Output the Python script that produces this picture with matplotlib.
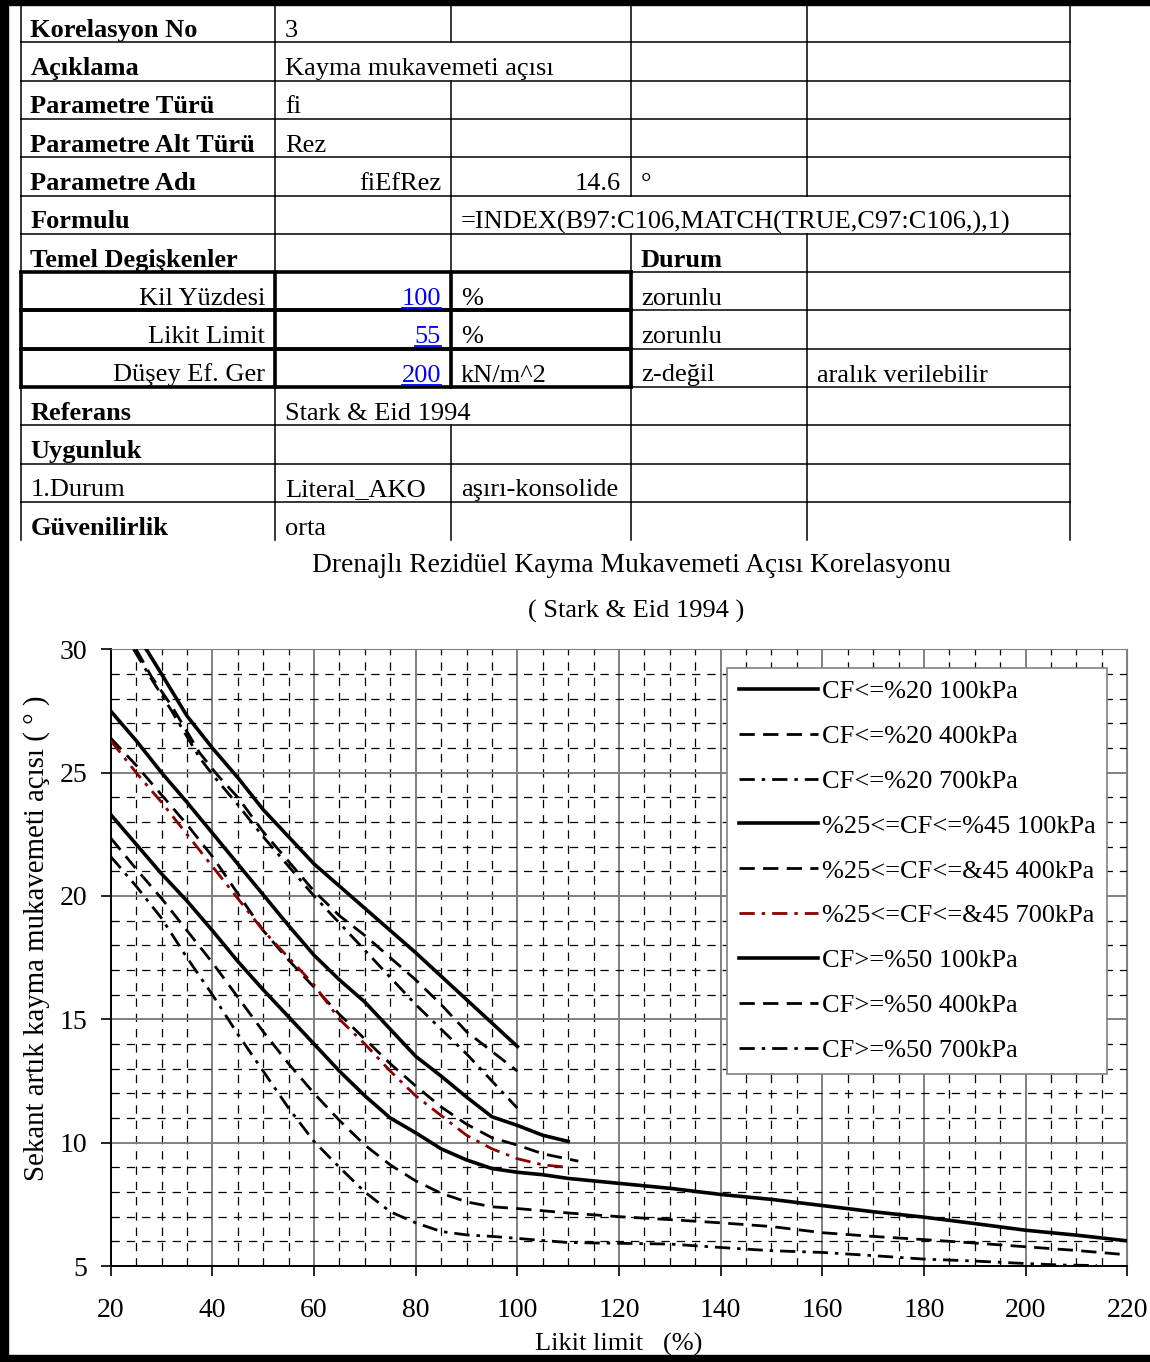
import matplotlib.pyplot as plt
from matplotlib.patches import Rectangle

plt.rcParams['font.family'] = ['Liberation Serif', 'DejaVu Serif']
plt.rcParams['lines.scale_dashes'] = False

# -------------------- table contents --------------------
# (text, column, align, bold, link)
table_rows = [
    [("Korelasyon No", 0, 'l', True, False), ("3", 1, 'l', False, False)],
    [("Açıklama", 0, 'l', True, False), ("Kayma mukavemeti açısı", 1, 'l', False, False)],
    [("Parametre Türü", 0, 'l', True, False), ("fi", 1, 'l', False, False)],
    [("Parametre Alt Türü", 0, 'l', True, False), ("Rez", 1, 'l', False, False)],
    [("Parametre Adı", 0, 'l', True, False), ("fiEfRez", 1, 'r', False, False),
     ("14.6", 2, 'r', False, False), ("°", 3, 'l', False, False)],
    [("Formulu", 0, 'l', True, False),
     ("=INDEX(B97:C106,MATCH(TRUE,C97:C106,),1)", 2, 'l', False, False)],
    [("Temel Degişkenler", 0, 'l', True, False), ("Durum", 3, 'l', True, False)],
    [("Kil Yüzdesi", 0, 'r', False, False), ("100", 1, 'r', False, True),
     ("%", 2, 'l', False, False), ("zorunlu", 3, 'l', False, False)],
    [("Likit Limit", 0, 'r', False, False), ("55", 1, 'r', False, True),
     ("%", 2, 'l', False, False), ("zorunlu", 3, 'l', False, False)],
    [("Düşey Ef. Ger", 0, 'r', False, False), ("200", 1, 'r', False, True),
     ("kN/m^2", 2, 'l', False, False), ("z-değil", 3, 'l', False, False),
     ("aralık verilebilir", 4, 'l', False, False)],
    [("Referans", 0, 'l', True, False), ("Stark & Eid 1994", 1, 'l', False, False)],
    [("Uygunluk", 0, 'l', True, False)],
    [("1.Durum", 0, 'l', False, False), ("Literal_AKO", 1, 'l', False, False),
     ("aşırı-konsolide", 2, 'l', False, False)],
    [("Güvenilirlik", 0, 'l', True, False), ("orta", 1, 'l', False, False)],
]
# inner column borders hidden by overflowing text: row -> boundary indices
hidden_borders = {1: [2], 5: [3, 4], 10: [2]}
boxed_rows = [7, 8, 9]

# -------------------- chart data --------------------
title1 = "Drenajlı Rezidüel Kayma Mukavemeti Açısı Korelasyonu"
title2 = "( Stark & Eid 1994 )"
x_label = "Likit limit   (%)"
y_label = "Sekant artık kayma mukavemeti açısı ( ° )"
x_ticks = [20, 40, 60, 80, 100, 120, 140, 160, 180, 200, 220]
y_ticks = [5, 10, 15, 20, 25, 30]

labels = ["CF<=%20 100kPa", "CF<=%20 400kPa", "CF<=%20 700kPa",
          "%25<=CF<=%45 100kPa", "%25<=CF<=&45 400kPa", "%25<=CF<=&45 700kPa",
          "CF>=%50 100kPa", "CF>=%50 400kPa", "CF>=%50 700kPa"]

ll_cf20_100 = [27, 30, 35, 40, 45, 50, 60, 70, 80, 90, 100]
phi_cf20_100 = [30, 29.0, 27.3, 26.0, 24.8, 23.5, 21.3, 19.5, 17.7, 15.8, 13.9]

ll_cf20_400 = [25, 28, 32, 37.5, 41, 45, 50, 55, 60, 65, 70, 75, 80, 85, 90, 95, 100]
phi_cf20_400 = [30, 28.9, 27.7, 25.8, 24.9, 24.0, 22.6, 21.4, 20.2, 19.2, 18.4, 17.5,
                16.6, 15.6, 14.5, 13.7, 12.9]

ll_cf20_700 = [24.5, 28, 32, 37.5, 40.5, 45, 50, 55, 60, 65, 70, 75, 80, 85, 90, 95, 100]
phi_cf20_700 = [30, 28.8, 27.5, 25.6, 24.8, 23.7, 22.4, 21.2, 20.0, 18.9, 17.8, 16.7,
                15.6, 14.6, 13.6, 12.5, 11.4]

ll_cf45_100 = [20, 25, 30, 35, 40, 45, 50, 55, 60, 65, 70, 75, 80, 85, 90, 95, 100, 105, 110]
phi_cf45_100 = [27.5, 26.3, 25.0, 23.8, 22.55, 21.3, 20.05, 18.8, 17.6, 16.6, 15.7, 14.6,
                13.5, 12.7, 11.85, 11.05, 10.7, 10.3, 10.05]

ll_cf45_400 = [20, 25, 30, 35, 40, 45, 50, 55, 60, 65, 70, 75, 80, 85, 90, 95, 100, 105, 112]
phi_cf45_400 = [26.4, 25.3, 24.1, 22.9, 21.6, 20.1, 18.6, 17.4, 16.3, 15.2, 14.2, 13.2,
                12.3, 11.45, 10.75, 10.2, 9.9, 9.55, 9.25]

ll_cf45_700 = [20, 25, 30, 35, 40, 45, 50, 55, 60, 65, 70, 75, 80, 85, 90, 95, 100, 105, 110]
phi_cf45_700 = [26.3, 25.0, 23.8, 22.5, 21.2, 19.9, 18.6, 17.5, 16.4, 15.0, 14.0, 12.9,
                11.9, 11.1, 10.3, 9.75, 9.35, 9.1, 9.0]

ll_cf50_100 = [20, 25, 30, 35, 40, 45, 50, 55, 60, 65, 70, 75, 80, 85, 90, 95, 100, 105,
               110, 115, 120, 130, 140, 150, 160, 170, 180, 190, 200, 210, 220]
phi_cf50_100 = [23.3, 22.1, 20.9, 19.8, 18.6, 17.35, 16.2, 15.1, 14.0, 12.9, 11.9, 11.0,
                10.4, 9.75, 9.3, 8.95, 8.8, 8.7, 8.55, 8.45, 8.35, 8.15, 7.9, 7.7, 7.45,
                7.2, 6.98, 6.72, 6.45, 6.25, 6.02]

ll_cf50_400 = [20, 25, 30, 35, 40, 45, 50, 55, 60, 65, 70, 75, 80, 85, 90, 95, 100, 110,
               120, 130, 140, 150, 160, 170, 180, 190, 200, 210, 218.5]
phi_cf50_400 = [22.35, 21.1, 19.9, 18.6, 17.3, 15.9, 14.5, 13.2, 12.0, 10.9, 9.9, 9.1,
                8.45, 7.95, 7.6, 7.4, 7.33, 7.15, 7.0, 6.88, 6.75, 6.6, 6.35, 6.2, 6.07,
                5.93, 5.78, 5.63, 5.48]

ll_cf50_700 = [20, 25, 30, 35, 40, 45, 50, 55, 60, 65, 70, 75, 80, 85, 90, 95, 100, 110,
               120, 130, 140, 150, 160, 170, 180, 190, 200, 207, 214]
phi_cf50_700 = [21.6, 20.4, 19.1, 17.5, 16.0, 14.4, 12.9, 11.4, 10.05, 9.0, 8.0, 7.2,
                6.75, 6.4, 6.26, 6.2, 6.12, 5.95, 5.92, 5.89, 5.75, 5.62, 5.55, 5.42,
                5.28, 5.2, 5.1, 5.04, 5.02]

series_x = [ll_cf20_100, ll_cf20_400, ll_cf20_700, ll_cf45_100, ll_cf45_400,
            ll_cf45_700, ll_cf50_100, ll_cf50_400, ll_cf50_700]
series_y = [phi_cf20_100, phi_cf20_400, phi_cf20_700, phi_cf45_100, phi_cf45_400,
            phi_cf45_700, phi_cf50_100, phi_cf50_400, phi_cf50_700]

# -------------------- figure --------------------
W, H = 1150, 1362
fig = plt.figure(figsize=(W / 100, H / 100), dpi=100)

# overlay axes in pixel coordinates for the sheet part
ov = fig.add_axes([0, 0, 1, 1])
ov.set_xlim(0, W)
ov.set_ylim(H, 0)
ov.axis('off')

col_x = [20.5, 275, 451, 631, 807, 1070]
row_top, row_h = 4, 38.3
n_rows = len(table_rows)
row_y = [row_top + i * row_h for i in range(n_rows + 1)]
FS = 19

# horizontal lines
for i in range(1, n_rows):
    ov.plot([col_x[0], col_x[-1]], [row_y[i], row_y[i]], color='black', lw=1.1)
# vertical lines
for i in range(n_rows):
    for j, cx in enumerate(col_x):
        if j in hidden_borders.get(i, []):
            continue
        ov.plot([cx, cx], [row_y[i], row_y[i + 1]], color='black', lw=1.1)
# thick boxes
for i in boxed_rows:
    ov.plot([col_x[0], col_x[3]], [row_y[i], row_y[i]], color='black', lw=2.6)
    ov.plot([col_x[0], col_x[3]], [row_y[i + 1], row_y[i + 1]], color='black', lw=2.6)
    for cx in col_x[:4]:
        ov.plot([cx, cx], [row_y[i], row_y[i + 1]], color='black', lw=2.6)

link_texts = []
for i, row in enumerate(table_rows):
    base = row_y[i + 1] - 5.5
    for text, c, al, bold, link in row:
        if al == 'l':
            tx, ha = col_x[c] + 10, 'left'
        else:
            tx, ha = col_x[c + 1] - 10, 'right'
        t = ov.text(tx, base, text, ha=ha, va='baseline', fontsize=FS,
                    fontweight='bold' if bold else 'normal',
                    color='#0000ff' if link else 'black')
        if link:
            link_texts.append(t)

# outer frame (thick left, top and bottom bands)
ov.add_patch(Rectangle((0, 0), W, 5, color='black'))
ov.add_patch(Rectangle((0, 0), 8, H, color='black'))
ov.add_patch(Rectangle((0, 1355), W, 7, color='black'))

# titles
ov.text(631, 566, title1, ha='center', va='center', fontsize=19.8)
ov.text(636, 611, title2, ha='center', va='center', fontsize=FS)

# -------------------- chart --------------------
x0, x1, y0, y1 = 110.7, 1127.3, 649.3, 1266
ax = fig.add_axes([x0 / W, 1 - y1 / H, (x1 - x0) / W, (y1 - y0) / H])

styles = [
    dict(color='black', lw=2.6, ls='-'),
    dict(color='black', lw=2.0, ls=(0, (11, 6))),
    dict(color='black', lw=2.0, ls=(0, (11, 5, 2.5, 5))),
    dict(color='black', lw=2.6, ls='-'),
    dict(color='black', lw=2.0, ls=(0, (11, 6))),
    dict(color='#8b0000', lw=2.0, ls=(0, (11, 5, 2.5, 5))),
    dict(color='black', lw=2.6, ls='-'),
    dict(color='black', lw=2.0, ls=(0, (11, 6))),
    dict(color='black', lw=2.0, ls=(0, (11, 5, 2.5, 5))),
]
for xs, ys, lab, st in zip(series_x, series_y, labels, styles):
    ax.plot(xs, ys, label=lab, zorder=3, **st)

ax.set_xlim(20, 220)
ax.set_ylim(5, 30)
ax.set_xticks(x_ticks)
ax.set_yticks(y_ticks)
ax.set_xticks(range(20, 221, 5), minor=True)
ax.set_yticks(range(5, 31, 1), minor=True)
ax.grid(which='minor', color='black', lw=0.9, ls=(0, (6, 5)), zorder=1)
ax.grid(which='major', color='#808080', lw=1.4, ls='-', zorder=2)
ax.tick_params(which='minor', length=0)
ax.tick_params(which='major', direction='out', length=7, width=1.2, labelsize=20)
ax.tick_params(axis='x', pad=16)
ax.tick_params(axis='y', pad=10)
for s in ['top', 'right']:
    ax.spines[s].set_color('#808080')
for s in ['left', 'bottom']:
    ax.spines[s].set_linewidth(1.4)

ax.set_xlabel(x_label, fontsize=FS, labelpad=7)
ax.set_ylabel(y_label, fontsize=20.8)
ax.yaxis.set_label_coords(-0.06, 0.532)

leg = ax.legend(loc='upper left', bbox_to_anchor=(0.606, 0.97), fontsize=FS,
                handlelength=3.0, handletextpad=0.15, labelspacing=0.81,
                borderpad=0.45, borderaxespad=0, fancybox=False, framealpha=1)
leg.get_frame().set_edgecolor('#808080')
leg.get_frame().set_linewidth(1.2)

# underline the linked values
fig.canvas.draw()
inv = ov.transData.inverted()
for t in link_texts:
    bb = t.get_window_extent()
    (ax_, ay_), (bx_, by_) = inv.transform([[bb.x0, bb.y0], [bb.x1, bb.y0]])
    ov.plot([ax_, bx_], [ay_ - 2, by_ - 2], color='#0000ff', lw=1.3)

fig.savefig('out.png', dpi=100)
